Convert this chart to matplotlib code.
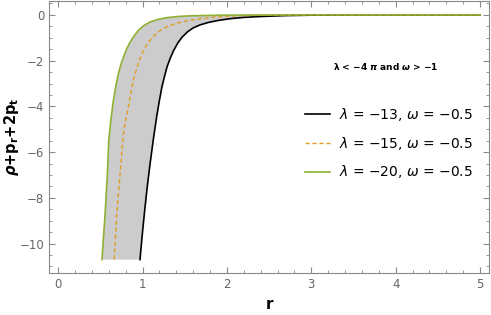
import numpy as np
import matplotlib.pyplot as plt
from matplotlib.ticker import MultipleLocator

# values (r, rho+p_r+2p_t)
r_black = [0.97, 1.00, 1.03, 1.06, 1.09, 1.13, 1.17, 1.20, 1.23, 1.26, 1.29, 1.33, 1.37, 1.42, 1.47,
           1.53, 1.60, 1.68, 1.78, 1.90, 2.05, 2.20, 2.40, 2.70, 3.00, 3.50, 5.00]
y_black = [-10.7, -9.5, -8.4, -7.4, -6.5, -5.4, -4.4, -3.75, -3.15, -2.7, -2.28, -1.88, -1.55, -1.22, -0.97,
           -0.75, -0.57, -0.44, -0.33, -0.24, -0.16, -0.11, -0.07, -0.03, -0.012, 0.0, 0.0]

r_orange = [0.664, 0.695, 0.735, 0.77, 0.80, 0.833, 0.862, 0.892, 0.93, 0.97, 1.02, 1.07,
            1.14, 1.21, 1.30, 1.41, 1.54, 1.68, 1.85, 2.04, 2.40, 3.00, 5.00]
y_orange = [-10.7, -8.68, -6.93, -5.3, -4.6, -4.03, -3.4, -2.86, -2.35, -1.91, -1.5, -1.19,
            -0.9, -0.68, -0.5, -0.36, -0.25, -0.17, -0.1, -0.05, -0.015, 0.0, 0.0]

r_green = [0.52, 0.557, 0.584, 0.60, 0.625, 0.655, 0.685, 0.714, 0.745, 0.775, 0.81, 0.853,
           0.90, 0.95, 1.01, 1.09, 1.18, 1.29, 1.42, 1.56, 1.96, 3.00, 5.00]
y_green = [-10.7, -8.68, -6.93, -5.5, -4.6, -3.73, -3.1, -2.57, -2.15, -1.84, -1.5, -1.19,
           -0.92, -0.68, -0.48, -0.31, -0.2, -0.12, -0.07, -0.04, -0.01, 0.0, 0.0]

labels = [r"$\lambda$ = −13, $\omega$ = −0.5",
          r"$\lambda$ = −15, $\omega$ = −0.5",
          r"$\lambda$ = −20, $\omega$ = −0.5"]

fig = plt.figure(figsize=(4.91, 3.15), dpi=100)
ax = fig.add_axes([0.1, 0.133, 0.896, 0.864])

# shaded region between the outer curves
ax.fill(np.r_[r_green, r_black[::-1]], np.r_[y_green, y_black[::-1]],
        color="#cccccc", lw=0, zorder=1)

ax.plot(r_black, y_black, color="black", lw=1.2, label=labels[0], zorder=3)
ax.plot(r_orange, y_orange, color="#E19C24", lw=1.0, ls=(0, (3, 2)), label=labels[1], zorder=3)
ax.plot(r_green, y_green, color="#8FB032", lw=1.2, label=labels[2], zorder=3)

ax.set_xlim(-0.107, 5.107)
ax.set_ylim(-11.29, 0.61)

ax.xaxis.set_major_locator(MultipleLocator(1))
ax.xaxis.set_minor_locator(MultipleLocator(0.2))
ax.yaxis.set_major_locator(MultipleLocator(2))
ax.yaxis.set_minor_locator(MultipleLocator(0.5))
ax.tick_params(which="both", direction="in", top=True, right=True,
               colors="#888888", labelcolor="#666666", labelsize=8.5)
ax.tick_params(which="major", length=4)
ax.tick_params(which="minor", length=2)
ax.set_yticks([0, -2, -4, -6, -8, -10])
ax.set_yticklabels(["0", "−2", "−4", "−6", "−8", "−10"])
for s in ax.spines.values():
    s.set_color("#888888")

ax.set_xlabel("r", fontsize=11, fontweight="bold", labelpad=4)
ax.set_ylabel(r"$\boldsymbol{\rho}$+$\mathbf{p_r}$+2$\mathbf{p_t}$", fontsize=10.5,
              fontweight="bold")
ax.yaxis.set_label_coords(-0.064, 0.5)

ax.text(0.645, 0.745, r"$\boldsymbol{\lambda}$ < −4 $\boldsymbol{\pi}$ and $\boldsymbol{\omega}$ > −1",
        transform=ax.transAxes, fontsize=6.5, fontweight="bold")

ax.legend(loc="upper left", bbox_to_anchor=(0.565, 0.64), frameon=False, fontsize=10,
          handlelength=1.8, handletextpad=0.7, labelspacing=0.85, borderpad=0)

plt.savefig("out.png", dpi=100)
